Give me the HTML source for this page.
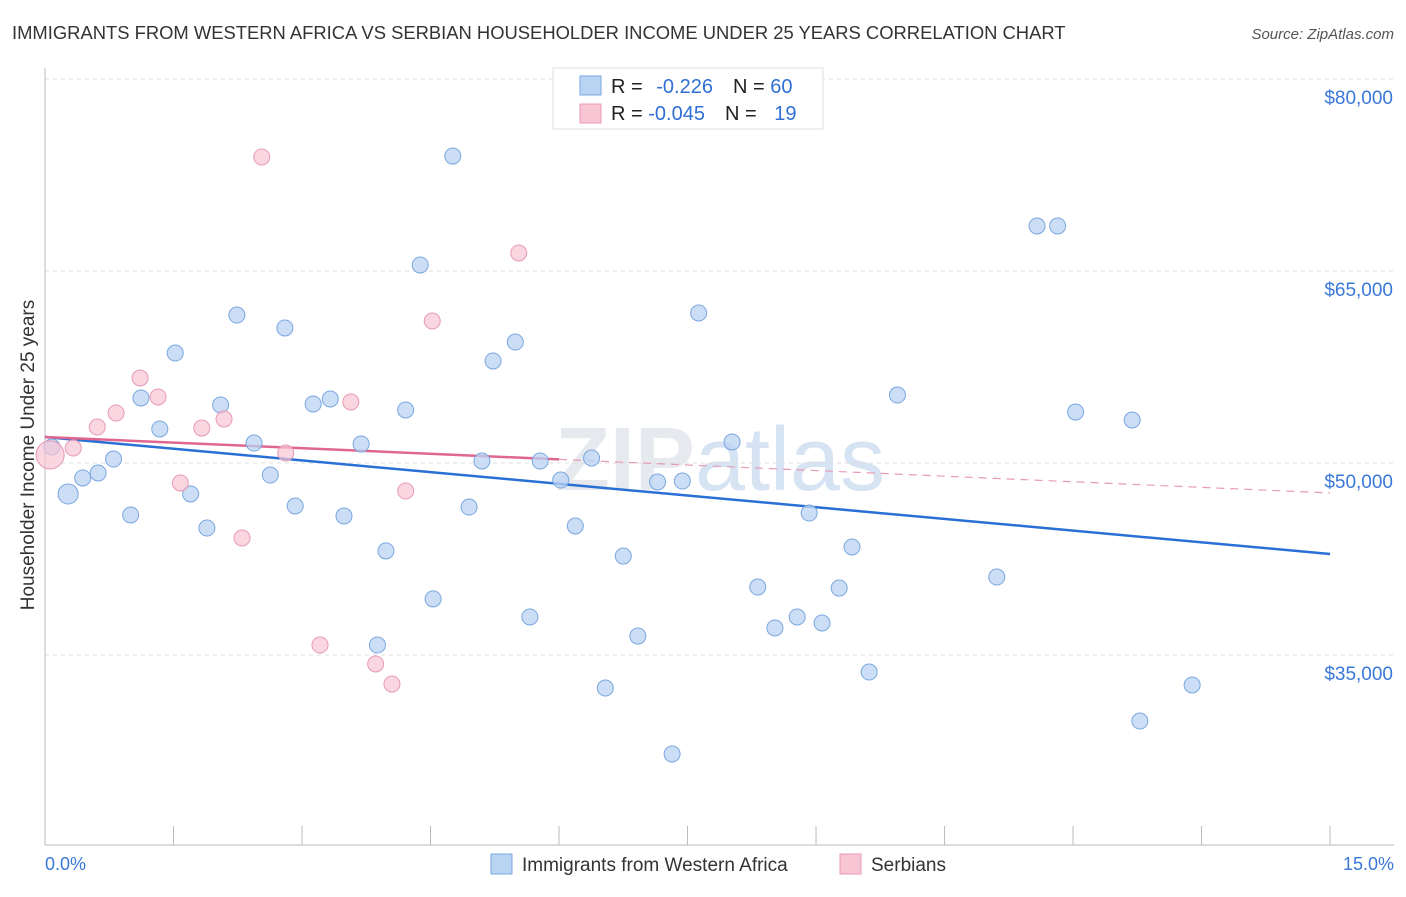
<!DOCTYPE html>
<html><head><meta charset="utf-8"><style>
body{margin:0;background:#fff;font-family:"Liberation Sans",sans-serif;}
svg text{font-family:"Liberation Sans",sans-serif;}
</style></head><body>
<svg id="chart" width="1406" height="892" xmlns="http://www.w3.org/2000/svg">
<text x="12" y="39" font-size="18.4" fill="#333">IMMIGRANTS FROM WESTERN AFRICA VS SERBIAN HOUSEHOLDER INCOME UNDER 25 YEARS CORRELATION CHART</text>
<text x="1394" y="39" font-size="15" fill="#555" font-style="italic" text-anchor="end">Source: ZipAtlas.com</text>
<text x="720" y="490" font-size="90" fill="#e4ebf4" text-anchor="middle" font-family="Liberation Serif"><tspan font-weight="bold" fill="#e6e9ee">ZIP</tspan><tspan font-family="Liberation Sans" fill="#d6e3f3">atlas</tspan></text>
<g id="grid"></g><g id="axes"></g><g id="lines"></g><g id="pts"></g>
<text transform="translate(34,455) rotate(-90)" font-size="19" fill="#333" text-anchor="middle">Householder Income Under 25 years</text>
<text x="45" y="870" font-size="18" fill="#3a78d8">0.0%</text>
<text x="1394" y="870" font-size="18" fill="#3a78d8" text-anchor="end">15.0%</text>
<g>
<rect x="553" y="68" width="270" height="61" fill="#fff" stroke="#ddd"/>
<rect x="580" y="76" width="21" height="19" fill="#b9d3f3" stroke="#7aa7e0"/>
<rect x="580" y="104" width="21" height="19" fill="#f8c5d4" stroke="#e89ab5"/>
<text x="611" y="93" font-size="20" fill="#222">R = <tspan fill="#2f6fd6" dx="8">-0.226</tspan><tspan dx="20" fill="#222">N = </tspan><tspan fill="#2f6fd6">60</tspan></text>
<text x="611" y="120" font-size="20" fill="#222">R = <tspan fill="#2f6fd6">-0.045</tspan><tspan dx="20" fill="#222">N = </tspan><tspan fill="#2f6fd6" dx="12">19</tspan></text>
</g>
<g>
<rect x="491" y="854" width="21" height="20" fill="#b9d3f3" stroke="#7aa7e0"/>
<text x="522" y="871" font-size="19" fill="#333">Immigrants from Western Africa</text>
<rect x="840" y="854" width="21" height="20" fill="#f8c5d4" stroke="#e89ab5"/>
<text x="871" y="871" font-size="19" fill="#333">Serbians</text>
</g>
</svg>
<script>
const yTicks=[35000,50000,65000,80000];
const yTickLabels=["$35,000","$50,000","$65,000","$80,000"];
const xTicks=[0,1.5,3,4.5,6,7.5,9,10.5,12,13.5,15];
const blueX=[0.08,0.27,0.44,0.62,0.80,1.00,1.12,1.34,1.52,1.70,1.89,2.05,2.24,2.44,2.63,2.80,2.92,3.13,3.33,3.49,3.69,3.88,3.98,4.21,4.38,4.53,4.76,4.95,5.10,5.23,5.49,5.66,5.78,6.02,6.19,6.38,6.54,6.75,6.92,7.15,7.32,7.44,7.63,8.02,8.32,8.52,8.78,8.92,9.07,9.27,9.42,9.62,9.95,11.11,11.58,11.82,12.03,12.69,12.78,13.39];
const blueY=[51250,47580,48830,49220,50310,45940,55080,52660,58590,47580,44920,54530,61560,51560,49060,60550,46640,54610,55000,45860,51480,35780,43130,54140,65470,39380,73980,46560,50160,57970,59450,37970,50160,48670,45080,50390,32420,42730,36480,48520,27270,48590,61720,51640,40310,37110,37970,46090,37500,40230,43440,33670,55310,41090,68520,68520,53980,53360,29840,32660];
const pinkX=[0.06,0.33,0.61,0.83,1.11,1.32,1.58,1.83,2.09,2.30,2.53,2.81,3.21,3.57,3.86,4.05,4.21,4.52,5.53];
const pinkY=[50630,51170,52810,53910,56640,55160,48440,52730,53440,44140,73910,50780,35780,54770,34300,32730,47810,61090,66410];
const blueTrend=[52030,42890];
const pinkTrend=[52030,47660];
const pinkSolidEnd=6;
const NS="http://www.w3.org/2000/svg";
const X=v=>45+v*85.67, Y=v=>79+(80000-v)/78.125;
function mk(tag,parent,attrs){const e=document.createElementNS(NS,tag);for(const k in attrs)e.setAttribute(k,attrs[k]);document.getElementById(parent).appendChild(e);return e;}
yTicks.forEach((t,i)=>{
 const l=mk('line','grid',{x1:45,x2:1394,y1:Y(t),y2:Y(t),stroke:'#ddd','stroke-dasharray':'4,4'});
 
 
 const tx=mk('text','grid',{x:1393,y:Y(t)+25,'font-size':19,fill:'#3a78d8','text-anchor':'end'});
 tx.textContent=yTickLabels[i];
 
 
});
const ax=mk('line','axes',{x1:45,x2:45,y1:68,y2:845,stroke:'#bbb'});


const bx=mk('line','axes',{x1:45,x2:1394,y1:845,y2:845,stroke:'#bbb'});


xTicks.forEach(t=>{
 const l=mk('line','axes',{x1:X(t),x2:X(t),y1:826,y2:845,stroke:'#bbb'});
 
 
});
blueX.forEach((x,i)=>{
 const c=mk('circle','pts',{cx:X(x),cy:Y(blueY[i]),r:i==1?10:8,fill:'#b9d3f3','fill-opacity':0.75,stroke:'#7aa7e0','stroke-width':1});
 
 
});
pinkX.forEach((x,i)=>{
 const c=mk('circle','pts',{cx:X(x),cy:Y(pinkY[i]),r:i==0?14:8,fill:'#f8c5d4','fill-opacity':0.7,stroke:'#e89ab5','stroke-width':1});
 
 
});
const bl=mk('line','lines',{x1:X(0),y1:Y(blueTrend[0]),x2:X(15),y2:Y(blueTrend[1]),stroke:'#2a6fd6','stroke-width':2.5});


const py=x=>pinkTrend[0]+(pinkTrend[1]-pinkTrend[0])*x/15;
const pl=mk('line','lines',{x1:X(0),y1:Y(py(0)),x2:X(pinkSolidEnd),y2:Y(py(pinkSolidEnd)),stroke:'#e0668f','stroke-width':2.5});


const pd=mk('line','lines',{x1:X(pinkSolidEnd),y1:Y(py(pinkSolidEnd)),x2:X(15),y2:Y(py(15)),stroke:'#e89ab5','stroke-width':1.2,'stroke-dasharray':'8,6'});


</script>
</body></html>
